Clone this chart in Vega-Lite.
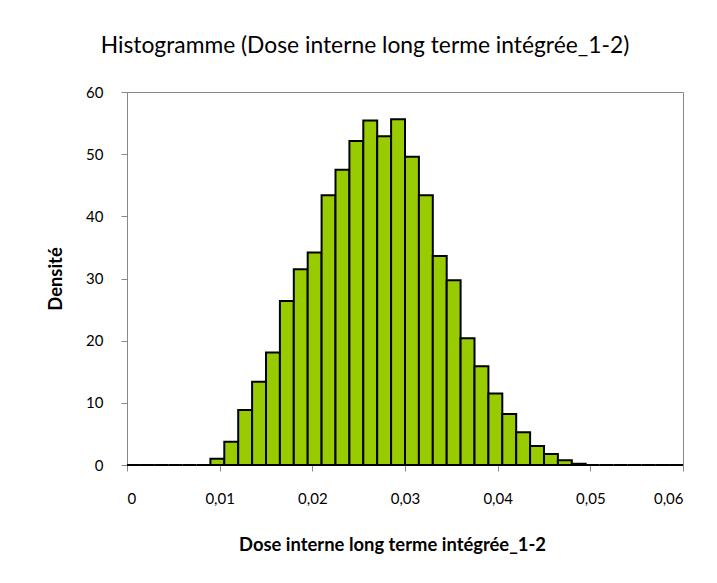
{
  "$schema": "https://vega.github.io/schema/vega-lite/v6.json",
  "width": 556,
  "height": 373,
  "autosize": {"type": "none"},
  "padding": {"left": 127, "top": 92, "right": 34, "bottom": 118},
  "background": "white",
  "title": {
    "text": "Histogramme (Dose interne long terme intégrée_1-2)",
    "font": "Lato",
    "fontSize": 22.8,
    "fontWeight": "normal",
    "color": "black",
    "anchor": "middle",
    "dx": -40,
    "offset": 27
  },
  "data": {
    "values": [
      {"start": 0.0, "end": 0.0015, "density": 0},
      {"start": 0.0015, "end": 0.003, "density": 0},
      {"start": 0.003, "end": 0.0045, "density": 0},
      {"start": 0.0045, "end": 0.006, "density": 0},
      {"start": 0.006, "end": 0.0075, "density": 0},
      {"start": 0.0075, "end": 0.009, "density": 0},
      {"start": 0.009, "end": 0.0105, "density": 1.0},
      {"start": 0.0105, "end": 0.012, "density": 3.75},
      {"start": 0.012, "end": 0.0135, "density": 8.85},
      {"start": 0.0135, "end": 0.015, "density": 13.4},
      {"start": 0.015, "end": 0.0165, "density": 18.1},
      {"start": 0.0165, "end": 0.018, "density": 26.4},
      {"start": 0.018, "end": 0.0195, "density": 31.5},
      {"start": 0.0195, "end": 0.021, "density": 34.2},
      {"start": 0.021, "end": 0.0225, "density": 43.4},
      {"start": 0.0225, "end": 0.024, "density": 47.5},
      {"start": 0.024, "end": 0.0255, "density": 52.1},
      {"start": 0.0255, "end": 0.027, "density": 55.4},
      {"start": 0.027, "end": 0.0285, "density": 52.9},
      {"start": 0.0285, "end": 0.03, "density": 55.6},
      {"start": 0.03, "end": 0.0315, "density": 49.6},
      {"start": 0.0315, "end": 0.033, "density": 43.4},
      {"start": 0.033, "end": 0.0345, "density": 33.6},
      {"start": 0.0345, "end": 0.036, "density": 29.7},
      {"start": 0.036, "end": 0.0375, "density": 20.4},
      {"start": 0.0375, "end": 0.039, "density": 15.9},
      {"start": 0.039, "end": 0.0405, "density": 11.5},
      {"start": 0.0405, "end": 0.042, "density": 8.2},
      {"start": 0.042, "end": 0.0435, "density": 5.25},
      {"start": 0.0435, "end": 0.045, "density": 3.06},
      {"start": 0.045, "end": 0.0465, "density": 1.77},
      {"start": 0.0465, "end": 0.048, "density": 0.75},
      {"start": 0.048, "end": 0.0495, "density": 0.2},
      {"start": 0.0495, "end": 0.051, "density": 0},
      {"start": 0.051, "end": 0.0525, "density": 0},
      {"start": 0.0525, "end": 0.054, "density": 0},
      {"start": 0.054, "end": 0.0555, "density": 0},
      {"start": 0.0555, "end": 0.057, "density": 0},
      {"start": 0.057, "end": 0.0585, "density": 0},
      {"start": 0.0585, "end": 0.06, "density": 0}
    ]
  },
  "mark": {"type": "bar", "fill": "#99CC00", "stroke": "black", "strokeWidth": 2, "strokeJoin": "miter"},
  "encoding": {
    "x": {
      "field": "start",
      "type": "quantitative",
      "scale": {"domain": [0, 0.06], "nice": false, "zero": false},
      "axis": {
        "values": [0, 0.01, 0.02, 0.03, 0.04, 0.05, 0.06],
        "labelExpr": "datum.value == 0 ? '0' : replace(format(datum.value, '.2f'), '.', ',')",
        "grid": false,
        "domainColor": "#888888",
        "tickColor": "#888888",
        "tickSize": 6,
        "labelPadding": 20,
        "labelFont": "Lato",
        "labelFontSize": 15,
        "labelColor": "black",
        "title": "Dose interne long terme intégrée_1-2",
        "titleFont": "Lato",
        "titleFontSize": 18.4,
        "titleFontWeight": "bold",
        "titleColor": "black",
        "titlePadding": 29,
        "titleX": 265
      }
    },
    "x2": {"field": "end"},
    "y": {
      "field": "density",
      "type": "quantitative",
      "scale": {"domain": [0, 60], "nice": false},
      "axis": {
        "values": [0, 10, 20, 30, 40, 50, 60],
        "grid": false,
        "domainColor": "#888888",
        "tickColor": "#888888",
        "tickSize": 6,
        "labelPadding": 18,
        "labelFont": "Lato",
        "labelFontSize": 15,
        "labelColor": "black",
        "title": "Densité",
        "titleFont": "Lato",
        "titleFontSize": 18.4,
        "titleFontWeight": "bold",
        "titleColor": "black",
        "titlePadding": 20
      }
    },
    "y2": {"datum": 0}
  },
  "config": {
    "view": {"stroke": "#888888", "strokeWidth": 1}
  }
}
